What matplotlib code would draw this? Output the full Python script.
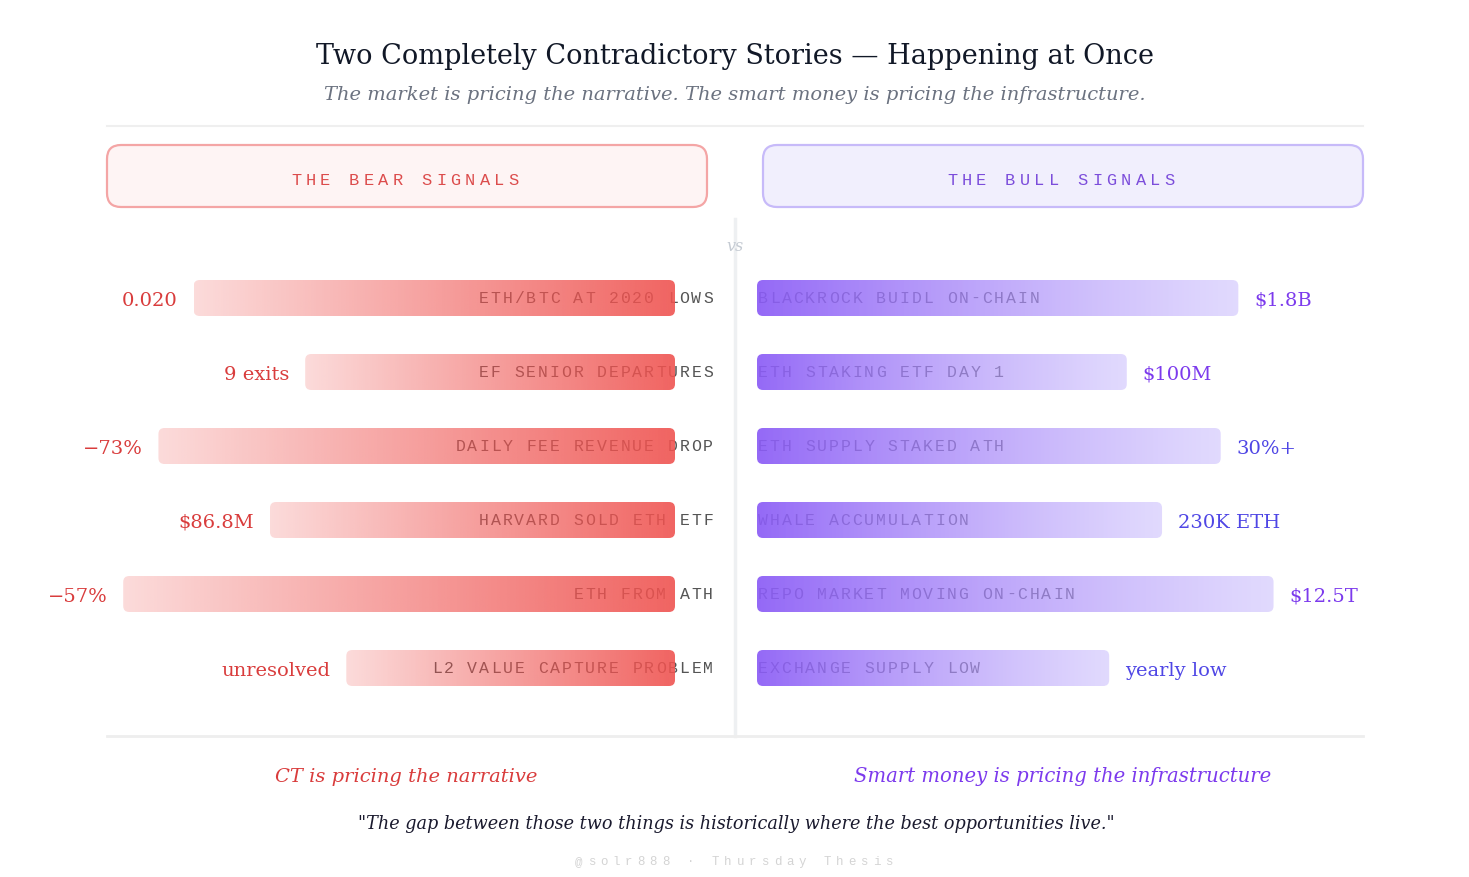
import numpy as np
import matplotlib
matplotlib.use('Agg')
import matplotlib.pyplot as plt
import matplotlib.transforms as mtransforms
from matplotlib.patches import FancyBboxPatch

# ---- data ----
bear_labels = ["ETH/BTC AT 2020 LOWS", "EF SENIOR DEPARTURES", "DAILY FEE REVENUE DROP",
               "HARVARD SOLD ETH ETF", "ETH FROM ATH", "L2 VALUE CAPTURE PROBLEM"]
bear_values = ["0.020", "9 exits", "\u221273%", "$86.8M", "\u221257%", "unresolved"]
bear_strength = [82, 63, 88, 69, 94, 56]

bull_labels = ["BLACKROCK BUIDL ON-CHAIN", "ETH STAKING ETF DAY 1", "ETH SUPPLY STAKED ATH",
               "WHALE ACCUMULATION", "REPO MARKET MOVING ON-CHAIN", "EXCHANGE SUPPLY LOW"]
bull_values = ["$1.8B", "$100M", "30%+", "230K ETH", "$12.5T", "yearly low"]
bull_strength = [82, 63, 79, 69, 88, 60]

title = "Two Completely Contradictory Stories \u2014 Happening at Once"
subtitle = "The market is pricing the narrative. The smart money is pricing the infrastructure."
bear_caption = "CT is pricing the narrative"
bull_caption = "Smart money is pricing the infrastructure"
quote = "\"The gap between those two things is historically where the best opportunities live.\""
footer = "@solr888 \u00b7 Thursday Thesis"

RED = '#d93c3c'
PURPLE = '#7c3aed'
INDIGO = '#4f46e5'
SERIF = 'DejaVu Serif'
MONO = 'Liberation Mono'

W, H = 1469, 877
fig = plt.figure(figsize=(W / 100, H / 100), dpi=100)
fig.patch.set_facecolor('white')

# background axes in pixel units
bg = fig.add_axes([0, 0, 1, 1])
bg.set_xlim(0, W)
bg.set_ylim(H, 0)
bg.axis('off')


def off(ax, dx, dy):
    return mtransforms.offset_copy(ax.transData, fig=fig, x=dx, y=dy, units='dots')


def spaced_text(ax, x, y, s, pitch, size_px, color, align='left', dx=0, zorder=3, alpha=1.0):
    # letter-spaced monospace text, one glyph per cell
    n = len(s)
    if align == 'left':
        start = dx
    elif align == 'right':
        start = dx - pitch * n
    else:
        start = dx - pitch * n / 2
    base_dy = -0.31 * size_px
    for k, ch in enumerate(s):
        if ch == ' ':
            continue
        ax.text(x, y, ch, transform=off(ax, start + pitch * (k + 0.5), base_dy),
                ha='center', va='baseline', fontsize=size_px * 0.72, family=MONO,
                color=color, zorder=zorder, alpha=alpha)


def fit(t, width_px):
    r = fig.canvas.get_renderer()
    w = t.get_window_extent(r).width
    t.set_fontsize(t.get_fontsize() * width_px / w)


# ---- title block ----
t = bg.text(735, 64, title, ha='center', va='baseline', family=SERIF, fontsize=22, color='#111827')
fit(t, 838)
t = bg.text(735, 100, subtitle, ha='center', va='baseline', family=SERIF, style='italic',
            fontsize=16, color='#6b7280')
fit(t, 823)
bg.plot([107, 1363], [126, 126], color='#efefef', lw=1.5)

# header boxes
bg.add_patch(FancyBboxPatch((107, 145), 600, 62, boxstyle='round,pad=0,rounding_size=14',
                            fc='#fef4f4', ec='#f4a5a5', lw=1.6))
bg.add_patch(FancyBboxPatch((763, 145), 600, 62, boxstyle='round,pad=0,rounding_size=14',
                            fc='#f1effd', ec='#c7baf9', lw=1.6))
spaced_text(bg, 405, 180, "THE BEAR SIGNALS", 14.5, 17, '#dc4c4c', align='center')
spaced_text(bg, 1061, 180, "THE BULL SIGNALS", 14.5, 17, '#7c4ddb', align='center')

# divider + vs
bg.plot([735, 735], [219, 736], color='#eef0f2', lw=2.5, zorder=0)
bg.text(735, 251, "vs", ha='center', va='baseline', family=SERIF, style='italic',
        fontsize=11.5, color='#c5cbd3')
bg.plot([107, 1363], [736, 736], color='#eeeeee', lw=2)

# ---- bars ----
SCALE_PX = 587.0   # px for 100 units
ROW_PX = 74.0
TOP = 261.0
n = len(bear_labels)
ax_h = n * ROW_PX
bottom_frac = 1 - (TOP + ax_h) / H

axL = fig.add_axes([(675 - SCALE_PX) / W, bottom_frac, SCALE_PX / W, ax_h / H])
axR = fig.add_axes([757 / W, bottom_frac, SCALE_PX / W, ax_h / H])
px_x = SCALE_PX / 100
px_y = ROW_PX


def grad_bar(ax, i, v, c_dark, c_light):
    h = 36 / ROW_PX
    g = np.linspace(0, 1, 256)[:, None]
    rgba = np.array(c_dark)[None, :] * (1 - g) + np.array(c_light)[None, :] * g
    img = ax.imshow(rgba[None, :, :], extent=(0, v, i + h / 2, i - h / 2), aspect='auto',
                    interpolation='bilinear', zorder=2)
    patch = FancyBboxPatch((0, i - h / 2), v, h,
                           boxstyle='round,pad=0,rounding_size=%f' % (6 / px_x),
                           mutation_aspect=px_x / px_y, fc='none', ec='none')
    ax.add_patch(patch)
    img.set_clip_path(patch)


red_dark = (239 / 255, 83 / 255, 80 / 255, 0.9)
red_light = (239 / 255, 83 / 255, 80 / 255, 0.21)
pur_dark = (139 / 255, 92 / 255, 246 / 255, 0.92)
pur_light = (196 / 255, 181 / 255, 253 / 255, 0.5)

for i in range(n):
    grad_bar(axL, i, bear_strength[i], red_dark, red_light)
    spaced_text(axL, 0, i, bear_labels[i], 11.8, 16.5, '#555555', align='right', dx=39, zorder=1)
    axL.text(bear_strength[i], i, bear_values[i], transform=off(axL, -16, -8), ha='right',
             va='baseline', family=SERIF, fontsize=14, color=RED)

    grad_bar(axR, i, bull_strength[i], pur_dark, pur_light)
    spaced_text(axR, 0, i, bull_labels[i], 11.8, 16.5, '#555555', align='left', dx=0, zorder=1)
    axR.text(bull_strength[i], i, bull_values[i], transform=off(axR, 16, -8), ha='left',
             va='baseline', family=SERIF, fontsize=14, color=PURPLE if i in (0, 1, 4) else INDIGO)

axL.set_xlim(100, 0)
axR.set_xlim(0, 100)
for ax in (axL, axR):
    ax.set_ylim(n - 0.5, -0.5)
    ax.axis('off')

# ---- bottom ----
t = bg.text(406, 782, bear_caption, ha='center', va='baseline', family=SERIF, style='italic',
            fontsize=16, color=RED)
fit(t, 263)
t = bg.text(1063, 782, bull_caption, ha='center', va='baseline', family=SERIF, style='italic',
            fontsize=16, color=PURPLE)
fit(t, 417)
t = bg.text(736, 829, quote, ha='center', va='baseline', family=SERIF, style='italic',
            fontsize=14, color='#1a1a2e')
fit(t, 759)
spaced_text(bg, 734, 861, footer, 12.4, 12.5, '#d4d4d4', align='center')

fig.savefig('out.png', dpi=100, facecolor='white')
